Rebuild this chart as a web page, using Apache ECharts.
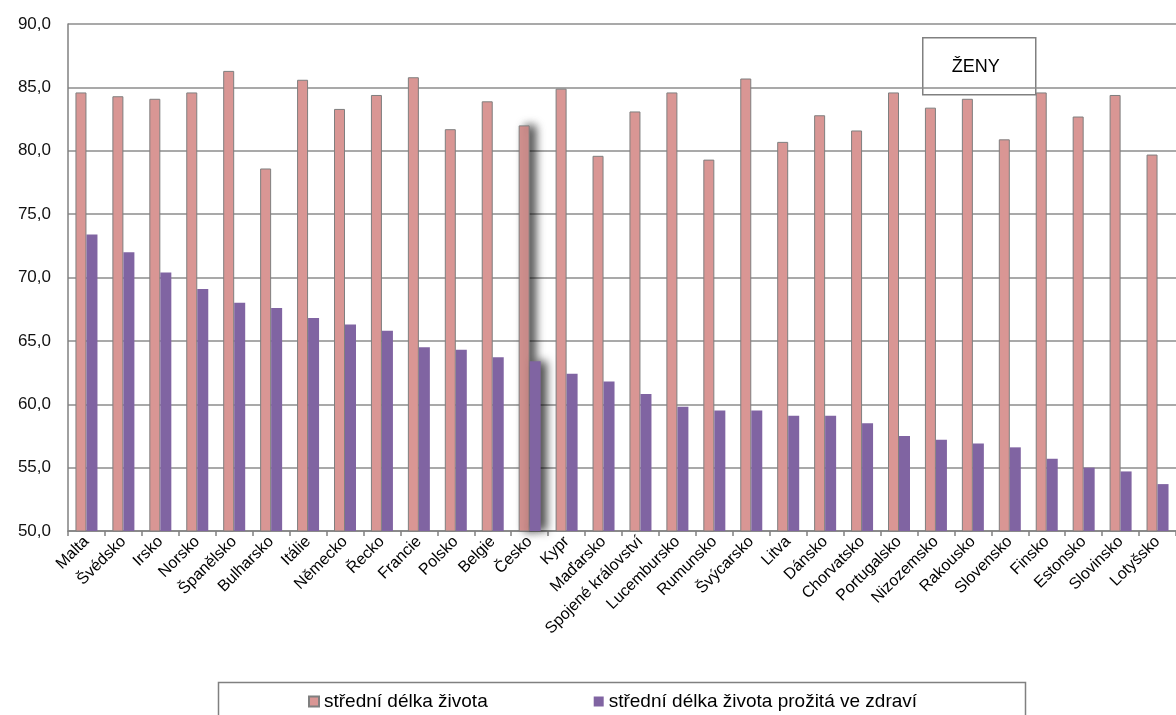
<!DOCTYPE html>
<html><head><meta charset="utf-8">
<script src="https://cdn.jsdelivr.net/npm/echarts@6/dist/echarts.min.js"></script>
<style>html,body{margin:0;padding:0;background:#fff}#c{width:1176px;height:715px}</style>
</head><body><div id="c"></div>
<script>
const categories = ["Malta","Švédsko","Irsko","Norsko","Španělsko","Bulharsko","Itálie","Německo","Řecko","Francie","Polsko","Belgie","Česko","Kypr","Maďarsko","Spojené království","Lucembursko","Rumunsko","Švýcarsko","Litva","Dánsko","Chorvatsko","Portugalsko","Nizozemsko","Rakousko","Slovensko","Finsko","Estonsko","Slovinsko","Lotyšsko"];
const lifeExpectancy = [84.6,84.3,84.1,84.6,86.3,78.6,85.6,83.3,84.4,85.8,81.7,83.9,82.0,84.9,79.6,83.1,84.6,79.3,85.7,80.7,82.8,81.6,84.6,83.4,84.1,80.9,84.6,82.7,84.4,79.7];
const healthyYears = [73.4,72.0,70.4,69.1,68.0,67.6,66.8,66.3,65.8,64.5,64.3,63.7,63.4,62.4,61.8,60.8,59.8,59.5,59.5,59.1,59.1,58.5,57.5,57.2,56.9,56.6,55.7,55.0,54.7,53.7];
const seriesNames = ["střední délka života","střední délka života prožitá ve zdraví"];
const yTicks = {min:50,max:90,interval:5};
const highlight = "Česko";

const font = "'Liberation Sans', Arial, sans-serif";
const shadowStyle = {shadowColor:'rgba(0,0,0,0.75)',shadowBlur:10,shadowOffsetX:6,shadowOffsetY:0};
function mk(vals){
  return vals.map((v,i)=>categories[i]===highlight ? {value:v,itemStyle:shadowStyle} : v);
}
const chart = echarts.init(document.getElementById('c'));
chart.setOption({
  animation:false,
  textStyle:{fontFamily:font},
  grid:{left:68,right:-6,top:24,bottom:184,containLabel:false},
  legend:{
    left:303, top:687, itemWidth:10, itemHeight:10, icon:'rect', itemGap:106,
    textStyle:{fontFamily:font,fontSize:19,color:'#000'},
    data:seriesNames
  },
  graphic:[
    {type:'rect',left:216,top:680,shape:{width:807,height:45},style:{fill:'none',stroke:'#808080',lineWidth:1.5},z:-1},
    {type:'group',left:922,top:37,children:[
      {type:'rect',shape:{x:0,y:0,width:113,height:57},style:{fill:'#fff',stroke:'#808080',lineWidth:1.5}},
      {type:'text',x:53,y:29,style:{text:'ŽENY',fill:'#000',font:'18px '+font,align:'center',verticalAlign:'middle'}}
    ],z:10}
  ],
  xAxis:{
    type:'category', data:categories,
    axisLine:{lineStyle:{color:'#808080',width:1.5}},
    axisTick:{show:true,length:5,lineStyle:{color:'#808080',width:1.5}},
    axisLabel:{rotate:45,interval:0,fontSize:16,color:'#000',fontFamily:font,margin:8}
  },
  yAxis:{
    type:'value', min:yTicks.min, max:yTicks.max, interval:yTicks.interval,
    axisLine:{show:true,lineStyle:{color:'#808080',width:1.5}},
    axisTick:{show:false},
    splitLine:{lineStyle:{color:'#8c8c8c',width:1.5}},
    axisLabel:{fontSize:17,color:'#111',fontFamily:font,margin:17,
      formatter:v=>v.toFixed(1).replace('.',',')}
  },
  series:[
    {name:seriesNames[0],type:'bar',data:mk(lifeExpectancy),barWidth:11,barGap:'0%',
     itemStyle:{color:'#D99694',borderColor:'#7f7f7f',borderWidth:1}},
    {name:seriesNames[1],type:'bar',data:mk(healthyYears),barWidth:11,
     itemStyle:{color:'#8064A2'}}
  ]
});
</script></body></html>
